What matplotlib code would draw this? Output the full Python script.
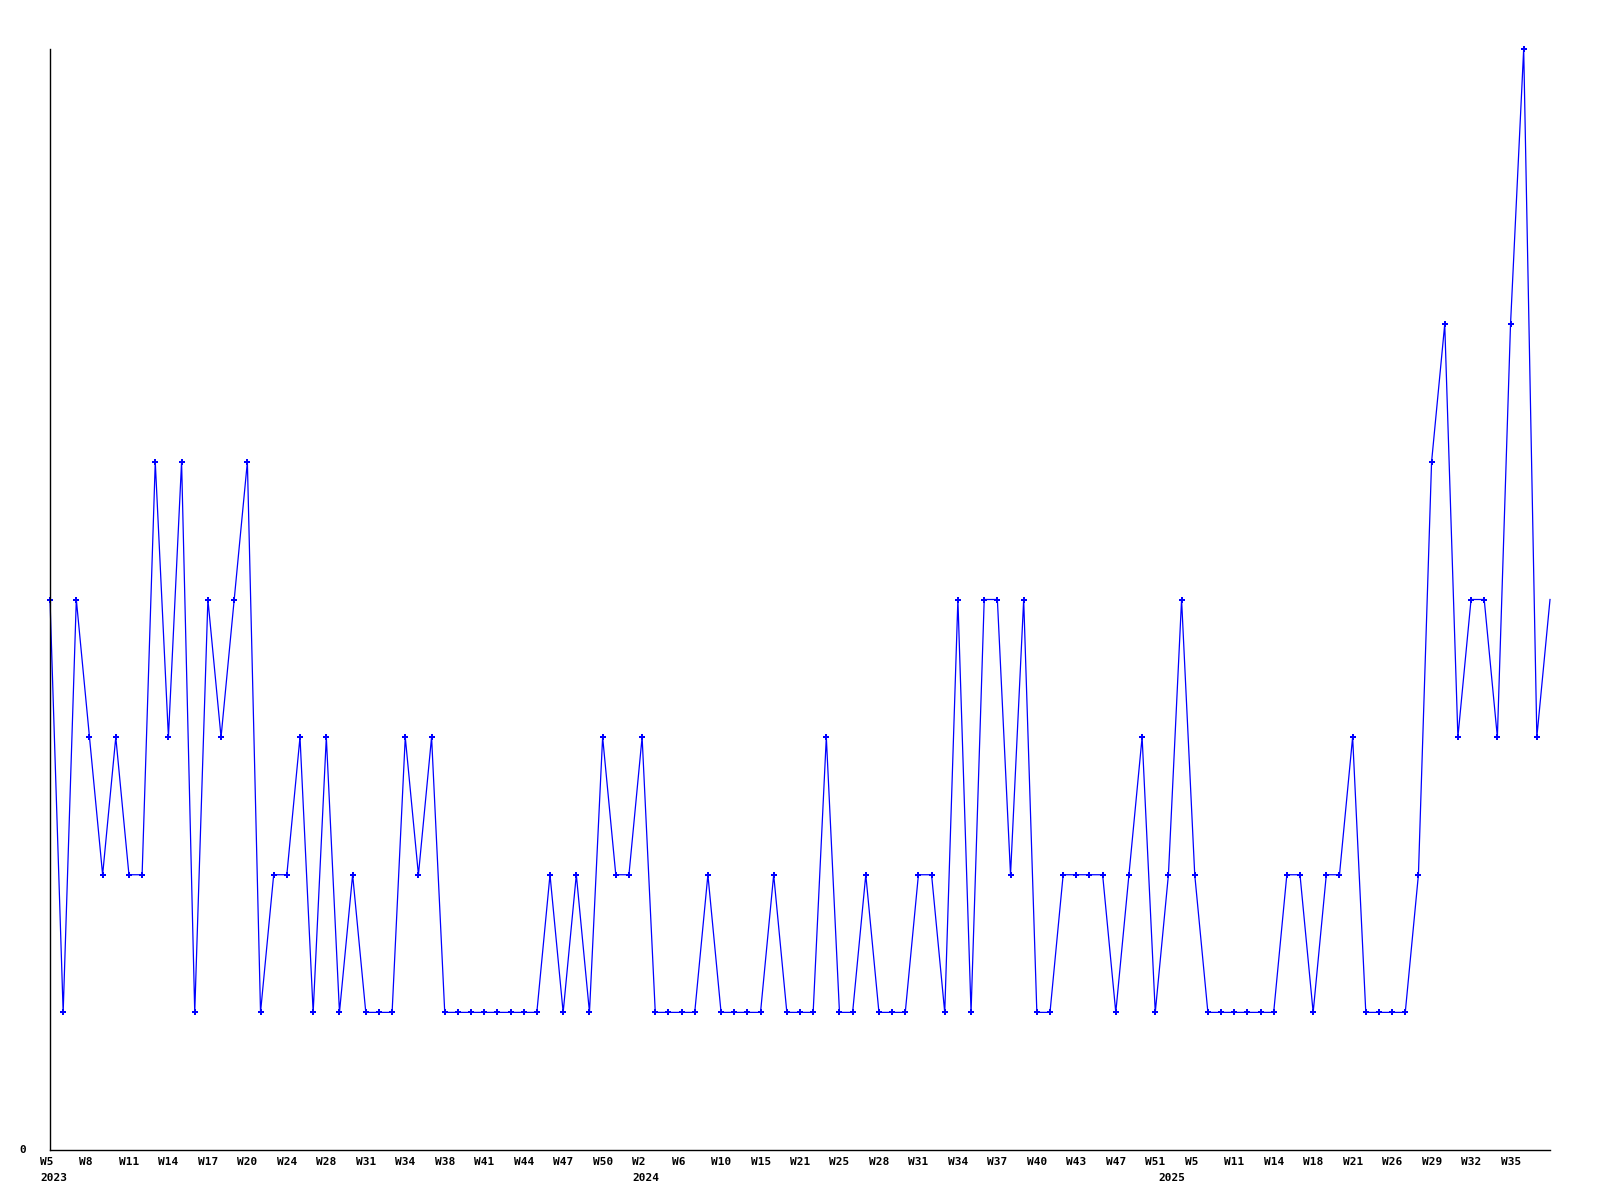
import matplotlib
matplotlib.use('Agg')
import matplotlib.pyplot as plt
import matplotlib.transforms as mtransforms

# weekly counts, one entry per reported week (gaps in weeks are skipped)
counts = [4, 1, 4, 3, 2, 3, 2, 2, 5, 3, 5, 1, 4, 3, 4, 5, 1, 2, 2, 3,
          1, 3, 1, 2, 1, 1, 1, 3, 2, 3, 1, 1, 1, 1, 1, 1, 1, 1, 2, 1,
          2, 1, 3, 2, 2, 3, 1, 1, 1, 1, 2, 1, 1, 1, 1, 2, 1, 1, 1, 3,
          1, 1, 2, 1, 1, 1, 2, 2, 1, 4, 1, 4, 4, 2, 4, 1, 1, 2, 2, 2,
          2, 1, 2, 3, 1, 2, 4, 2, 1, 1, 1, 1, 1, 1, 2, 2, 1, 2, 2, 3,
          1, 1, 1, 1, 2, 5, 6, 3, 4, 4, 3, 6, 8, 3, 4]

# every third point gets a week label
week_labels = ['W5', 'W8', 'W11', 'W14', 'W17', 'W20', 'W24', 'W28', 'W31',
               'W34', 'W38', 'W41', 'W44', 'W47', 'W50',
               'W2', 'W6', 'W10', 'W15', 'W21', 'W25', 'W28', 'W31', 'W34',
               'W37', 'W40', 'W43', 'W47', 'W51',
               'W5', 'W11', 'W14', 'W18', 'W21', 'W26', 'W29', 'W32', 'W35']
label_step = 3

years = ['2023', '2024', '2025']
year_index = [0, 45, 85]

FONT = dict(family='DejaVu Sans Mono', weight='bold', size=8)

fig = plt.figure(figsize=(16, 12), dpi=100)
ax = fig.add_axes([50/1600., 1 - 1150/1200., 1500/1600., 1101/1200.])

x = list(range(len(counts)))
# the last (still running) week is drawn without a marker
ax.plot(x, counts, color='#0000ff', lw=0.9, marker='P', markersize=4.5,
        markeredgewidth=0, markevery=list(range(len(counts) - 1)),
        clip_on=False)

ax.set_xlim(0, len(counts) - 1)
ax.set_ylim(0, max(counts))

for side in ('top', 'right'):
    ax.spines[side].set_visible(False)
for side in ('left', 'bottom'):
    ax.spines[side].set_linewidth(1.0)
    ax.spines[side].set_color('black')

ax.set_xticks([])
ax.set_yticks([])

# labels sit left-aligned, a few pixels left of their point
shift = mtransforms.ScaledTranslation(-10/100., 0, fig.dpi_scale_trans)
trans = mtransforms.blended_transform_factory(ax.transData, ax.transAxes) + shift
px = 1.0 / 1101
for i, lab in enumerate(week_labels):
    ax.text(i * label_step, -12 * px, lab, transform=trans, ha='left', va='center', **FONT)
for i, yr in zip(year_index, years):
    ax.text(i, -28 * px, yr, transform=trans, ha='left', va='center', **FONT)

yshift = mtransforms.ScaledTranslation(-24/100., 0, fig.dpi_scale_trans)
ax.text(0, 0, '0', transform=ax.transAxes + yshift, ha='right', va='center', **FONT)

plt.savefig('out.png', dpi=100)
